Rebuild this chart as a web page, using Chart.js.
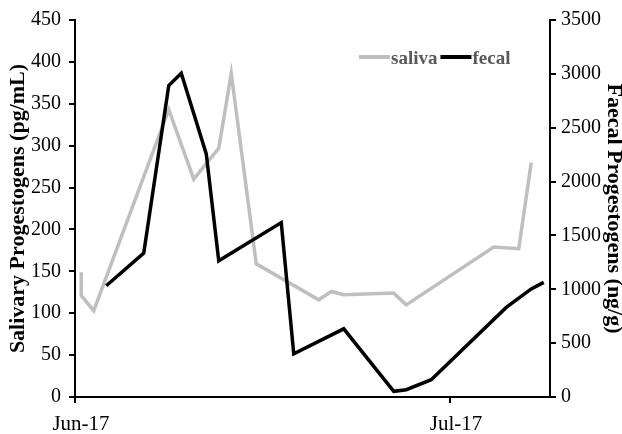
<!DOCTYPE html>
<html>
<head>
<meta charset="utf-8">
<script src="https://cdn.jsdelivr.net/npm/chart.js@4"></script>
<style>
html,body{margin:0;padding:0;background:#fff;}
#wrap{width:622px;height:434px;}
</style>
</head>
<body>
<div id="wrap"><canvas id="c" width="622" height="434"></canvas></div>
<script>
// Days since 1 Jun 2017 (points are centred in their day slot)
const salivaDays   = [0.5, 0.5, 1.5, 7.5, 9.5, 11.5, 12.5, 14.5, 19.5, 20.5, 21.5, 25.5, 26.5, 33.5, 35.5, 36.5];
const salivaValues = [149, 121, 103, 343, 260, 297, 386, 159, 116, 126, 122, 124, 110, 179, 177, 280];
const fecalDays    = [2.5, 5.5, 7.5, 8.5, 10.5, 11.5, 16.5, 17.5, 21.5, 25.5, 26.5, 28.5, 34.5, 36.5, 37.5];
const fecalValues  = [1033, 1336, 2892, 3006, 2257, 1264, 1619, 401, 633, 53, 68, 161, 832, 1003, 1064];
const xTickValues  = [0, 30];
const xTickLabels  = ['Jun-17', 'Jul-17'];
const seriesNames  = ['saliva', 'fecal'];
const leftTitle    = 'Salivary Progestogens (pg/mL)';
const rightTitle   = 'Faecal Progestogens (ng/g)';

const SERIF = '"Liberation Serif", "Times New Roman", serif';
const toPts = (xs, ys) => xs.map((x, i) => ({x: x, y: ys[i]}));

const legendPlugin = {
  id: 'customLegend',
  afterDraw(chart) {
    const ctx = chart.ctx;
    ctx.save();
    ctx.font = 'bold 19px ' + SERIF;
    ctx.textBaseline = 'middle';
    let x = 359;
    const y = 57;
    chart.data.datasets.forEach((ds, i) => {
      ctx.strokeStyle = ds.borderColor;
      ctx.lineWidth = 4;
      ctx.beginPath();
      ctx.moveTo(x, y);
      ctx.lineTo(x + 31, y);
      ctx.stroke();
      x += 32;
      ctx.fillStyle = '#595959';
      ctx.fillText(ds.label, x, y + 2);
      x += ctx.measureText(ds.label).width + 3;
    });
    ctx.restore();
  }
};

const tickGrid = {drawOnChartArea: false, drawTicks: true, tickLength: 6, color: '#000', lineWidth: 2};
const axisBorder = {display: true, color: '#000', width: 2};

new Chart(document.getElementById('c'), {
  type: 'line',
  data: {
    datasets: [
      {label: seriesNames[0], data: toPts(salivaDays, salivaValues), yAxisID: 'y',
       borderColor: '#BFBFBF', borderWidth: 3.5, pointRadius: 0, tension: 0, order: 2},
      {label: seriesNames[1], data: toPts(fecalDays, fecalValues), yAxisID: 'y1',
       borderColor: '#000000', borderWidth: 3.5, pointRadius: 0, tension: 0, order: 1}
    ]
  },
  options: {
    responsive: false,
    animation: false,
    events: [],
    layout: {padding: {top: 16, left: 0, right: 0, bottom: 0}},
    plugins: {legend: {display: false}, tooltip: {enabled: false}},
    scales: {
      x: {
        type: 'linear', min: 0, max: 38,
        grid: tickGrid, border: axisBorder,
        afterBuildTicks: s => { s.ticks = xTickValues.map(v => ({value: v})); },
        afterFit: s => { s.height = 37; },
        ticks: {
          color: '#000', font: {family: SERIF, size: 21}, padding: 9,
          maxRotation: 0, autoSkip: false, labelOffset: 6,
          callback: v => xTickLabels[xTickValues.indexOf(v)]
        }
      },
      y: {
        position: 'left', min: 0, max: 450,
        grid: tickGrid, border: axisBorder,
        afterFit: s => { s.width = 75; },
        ticks: {stepSize: 50, color: '#000', font: {family: SERIF, size: 20}, padding: 8,
                callback: v => String(v)},
        title: {display: true, text: leftTitle, color: '#000',
                font: {family: SERIF, size: 22, weight: 'bold', lineHeight: 1}, padding: {top: 7, bottom: 0}}
      },
      y1: {
        position: 'right', min: 0, max: 3500,
        grid: tickGrid, border: axisBorder,
        afterFit: s => { s.width = 72; },
        ticks: {stepSize: 500, color: '#000', font: {family: SERIF, size: 20}, padding: 5,
                callback: v => String(v)},
        title: {display: true, text: rightTitle, color: '#000',
                font: {family: SERIF, size: 22, weight: 'bold', lineHeight: 0.8}, padding: {top: 0, bottom: 0}}
      }
    }
  },
  plugins: [legendPlugin]
});
</script>
</body>
</html>
